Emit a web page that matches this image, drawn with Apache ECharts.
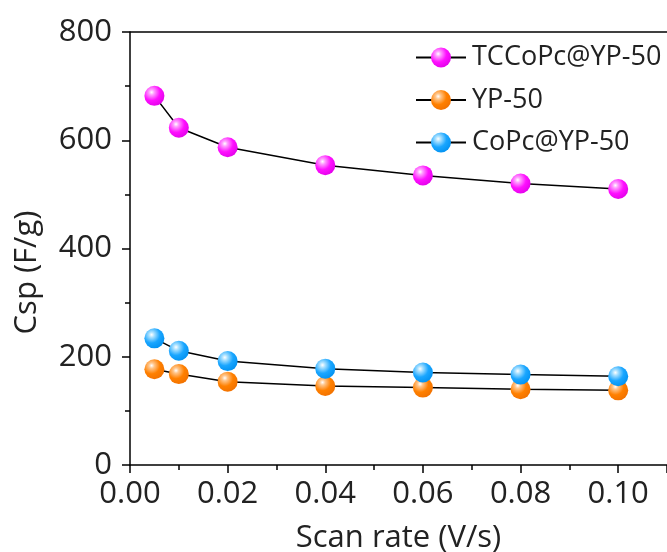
<!DOCTYPE html>
<html>
<head>
<meta charset="utf-8">
<script src="https://cdn.jsdelivr.net/npm/echarts@6/dist/echarts.min.js"></script>
<style>
  html, body { margin: 0; padding: 0; background: #fff; }
  #chart { width: 667px; height: 552px; }
</style>
</head>
<body>
<div id="chart"></div>
<script>
// Specific capacitance vs. scan rate
const scanRates = [0.005, 0.01, 0.02, 0.04, 0.06, 0.08, 0.10];
const tccopcYP50 = [682, 623, 587, 554, 535, 520, 510];
const yp50 = [177, 168, 154, 146, 143, 140, 138];
const copcYP50 = [234, 211, 192, 178, 171, 167, 164];
const seriesNames = ['TCCoPc@YP-50', 'YP-50', 'CoPc@YP-50'];

const FONT = '"Open Sans", "Noto Sans", sans-serif';

function sphere(light, mid, dark) {
  return {
    type: 'radial', x: 0.36, y: 0.32, r: 0.75,
    colorStops: [
      { offset: 0, color: '#ffffff' },
      { offset: 0.18, color: light },
      { offset: 0.55, color: mid },
      { offset: 1, color: dark }
    ]
  };
}

function pairs(ys) {
  return scanRates.map((x, i) => [x, ys[i]]);
}

function lineSeries(name, ys, fill) {
  return {
    name: name,
    type: 'line',
    data: pairs(ys),
    symbol: 'circle',
    symbolSize: 20,
    lineStyle: { color: '#000', width: 1.5 },
    itemStyle: { color: fill, borderWidth: 0 },
    emphasis: { disabled: true },
    z: 3
  };
}

const chart = echarts.init(document.getElementById('chart'));
chart.setOption({
  animation: false,
  backgroundColor: '#fff',
  grid: { left: 130, top: 32, right: 0, bottom: 87, outerBoundsMode: 'none', containLabel: false },
  legend: {
    data: seriesNames,
    orient: 'vertical',
    left: 415,
    top: 44,
    padding: 0,
    itemWidth: 50,
    itemHeight: 25,
    itemGap: 15.5,
    textStyle: { fontFamily: FONT, fontSize: 27, color: '#222', padding: [0, 0, 0, 1] }
  },
  xAxis: {
    type: 'value',
    min: 0,
    max: 0.11,
    interval: 0.02,
    name: 'Scan rate (V/s)',
    nameLocation: 'middle',
    nameGap: 58,
    nameTextStyle: { fontFamily: FONT, fontSize: 31, color: '#222' },
    axisLine: { show: true, lineStyle: { color: '#000', width: 1.5 } },
    axisTick: { show: true, inside: false, length: 8, lineStyle: { color: '#000', width: 1.5 } },
    minorTick: { show: true, splitNumber: 2, length: 5, lineStyle: { color: '#000', width: 1.5 } },
    splitLine: { show: false },
    axisLabel: {
      margin: 14,
      fontFamily: FONT, fontSize: 31, color: '#222',
      formatter: v => (Math.abs(v - 0.11) < 1e-9 ? '' : v.toFixed(2))
    }
  },
  yAxis: {
    type: 'value',
    min: 0,
    max: 800,
    interval: 200,
    name: 'Csp (F/g)',
    nameLocation: 'middle',
    nameGap: 87,
    nameRotate: 90,
    nameTextStyle: { fontFamily: FONT, fontSize: 31, color: '#222', padding: [0, 48, 0, 0] },
    axisLine: { show: true, lineStyle: { color: '#000', width: 1.5 } },
    axisTick: { show: true, inside: false, length: 8, lineStyle: { color: '#000', width: 1.5 } },
    minorTick: { show: true, splitNumber: 2, length: 5, lineStyle: { color: '#000', width: 1.5 } },
    splitLine: { show: false },
    axisLabel: { margin: 18, fontFamily: FONT, fontSize: 31, color: '#222' }
  },
  series: [
    lineSeries(seriesNames[0], tccopcYP50, sphere('#ff9cff', '#ff10ff', '#e000e8')),
    lineSeries(seriesNames[1], yp50, sphere('#ffc58a', '#ff8000', '#f07000')),
    lineSeries(seriesNames[2], copcYP50, sphere('#a8e0ff', '#1aa6ff', '#0090f0'))
  ],
  graphic: [{
    type: 'line',
    shape: { x1: 130, y1: 32, x2: 667, y2: 32 },
    style: { stroke: '#000', lineWidth: 1.5 },
    silent: true
  }]
});
</script>
</body>
</html>
